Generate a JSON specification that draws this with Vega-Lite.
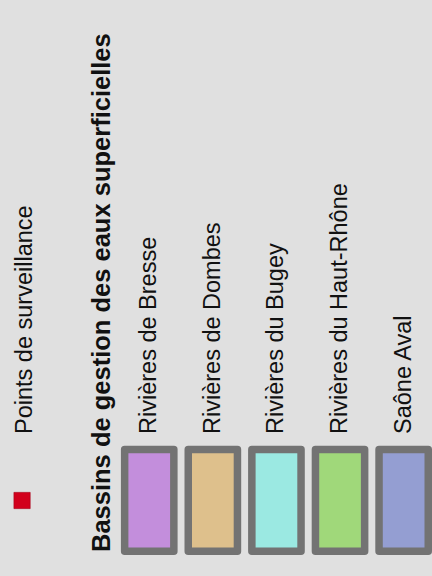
{
  "$schema": "https://vega.github.io/schema/vega-lite/v6.json",
  "width": 432,
  "height": 576,
  "autosize": {"type": "none"},
  "padding": 0,
  "background": "#e0e0e0",
  "config": {"view": {"stroke": null}, "font": "Liberation Sans"},
  "datasets": {
    "points": [{"label": "Points de surveillance", "col": -1}],
    "basins": [
      {"basin": "Rivières de Bresse", "col": 1},
      {"basin": "Rivières de Dombes", "col": 2},
      {"basin": "Rivières du Bugey", "col": 3},
      {"basin": "Rivières du Haut-Rhône", "col": 4},
      {"basin": "Saône Aval", "col": 5}
    ],
    "title": [{"title": "Bassins de gestion des eaux superficielles", "col": 0.25}]
  },
  "encoding": {
    "x": {"field": "col", "type": "quantitative", "scale": {"domain": [-1.3467, 5.4458], "nice": false, "zero": false, "padding": 0}, "axis": null}
  },
  "layer": [
    {
      "data": {"name": "points"},
      "mark": {"type": "point", "shape": "square", "filled": true, "size": 265, "color": "#d2001c", "opacity": 1, "stroke": "#a8001a", "strokeWidth": 0.6},
      "encoding": {
        "y": {"datum": 75.5, "type": "quantitative", "scale": {"domain": [0, 576], "nice": false, "zero": false, "padding": 0}, "axis": null}
      }
    },
    {
      "data": {"name": "points"},
      "mark": {"type": "text", "angle": 270, "align": "left", "baseline": "middle", "fontSize": 23.5, "dy": 3, "color": "#111111"},
      "encoding": {
        "y": {"datum": 142, "type": "quantitative", "scale": {"domain": [0, 576], "nice": false, "zero": false, "padding": 0}, "axis": null},
        "text": {"field": "label"}
      }
    },
    {
      "data": {"name": "title"},
      "mark": {"type": "text", "angle": 270, "align": "left", "baseline": "middle", "fontSize": 25.5, "fontWeight": "bold", "color": "#111111"},
      "encoding": {
        "y": {"datum": 24, "type": "quantitative", "scale": {"domain": [0, 576], "nice": false, "zero": false, "padding": 0}, "axis": null},
        "text": {"field": "title"}
      }
    },
    {
      "data": {"name": "basins"},
      "mark": {"type": "bar", "orient": "vertical", "width": 49.2, "stroke": "#737373", "strokeWidth": 7.5, "strokeJoin": "round", "opacity": 1},
      "encoding": {
        "y": {"datum": 126.5, "type": "quantitative", "scale": {"domain": [0, 576], "nice": false, "zero": false, "padding": 0}, "axis": null},
        "y2": {"datum": 24.7},
        "fill": {"field": "basin", "type": "nominal", "legend": null, "scale": {"domain": ["Rivières de Bresse", "Rivières de Dombes", "Rivières du Bugey", "Rivières du Haut-Rhône", "Saône Aval"], "range": ["#c38edc", "#dec08c", "#9be9e2", "#a0d87a", "#949ed2"]}}
      }
    },
    {
      "data": {"name": "basins"},
      "mark": {"type": "text", "angle": 270, "align": "left", "baseline": "middle", "fontSize": 23.5, "color": "#111111"},
      "encoding": {
        "y": {"datum": 142, "type": "quantitative", "scale": {"domain": [0, 576], "nice": false, "zero": false, "padding": 0}, "axis": null},
        "text": {"field": "basin"}
      }
    }
  ]
}
